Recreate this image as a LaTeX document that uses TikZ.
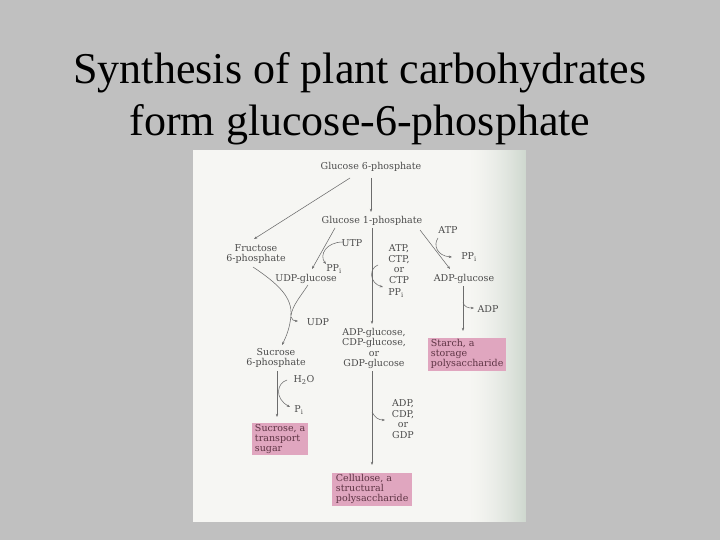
\documentclass[tikz,border=0pt]{standalone}
\usepackage{fontspec}
\setmainfont{Liberation Serif}
\newfontfamily\dia{DejaVu Serif}
\usetikzlibrary{arrows.meta}
\definecolor{bg}{HTML}{C0C0C0}
\definecolor{paper}{HTML}{F6F6F3}
\definecolor{paperedge}{HTML}{CFD8CF}
\definecolor{ink}{HTML}{4C4C4C}
\definecolor{lineink}{HTML}{6C6C6C}
\definecolor{pink}{HTML}{E0A6BF}
\definecolor{boxink}{HTML}{5E3444}
\tikzset{
  lbl/.style={font=\dia\fontsize{9.5}{10.5}\selectfont, text=ink, inner sep=0pt, align=center},
  pinkbox/.style={fill=pink, font=\dia\fontsize{9.5}{10}\selectfont, text=boxink, align=left, inner xsep=2pt, inner ysep=1.5pt, anchor=north west},
  conn/.style={draw=lineink, line width=0.55pt, -{Stealth[length=3.2pt,width=2.4pt]}},
  plainline/.style={draw=lineink, line width=0.55pt},
  titlef/.style={font=\fontsize{44}{52}\selectfont, text=black, inner sep=0pt, anchor=base}
}
\begin{document}
\begin{tikzpicture}[x=1pt,y=-1pt]
\useasboundingbox (0,0) rectangle (720,540);
\fill[bg] (0,0) rectangle (720,540);
% title
\node[titlef] (t1) at (360,83.5) {Synthesis of plant carbohydrates};
\node[titlef] (t2) at (360,135.5) {form glucose-6-phosphate};
% scanned panel
\fill[paper] (193,150) rectangle (526,522);
\foreach \i in {0,...,59}{
  \pgfmathsetmacro\p{100*(\i/59)^1.6}
  \fill[paperedge!\p!paper] ({466+\i},150) rectangle ({467.4+\i},522);
}
\fill[bg] (526,150) rectangle (530,522);
% nodes
\node[lbl] (g6p) at (371,167) {Glucose 6-phosphate};
\node[lbl] (g1p) at (372,221) {Glucose 1-phosphate};
\node[lbl] (f6p) at (256,254) {Fructose\\6-phosphate};
\node[lbl] (udpg) at (306,279) {UDP-glucose};
\node[lbl] (utp) at (352,243) {UTP};
\node[lbl] (ppi1) at (334,269) {PP\textsubscript{i}};
\node[lbl] (atpmid) at (399,264) {ATP,\\CTP,\\or\\CTP};
\node[lbl] (ppi2) at (396,293) {PP\textsubscript{i}};
\node[lbl] (adpg) at (464,279) {ADP-glucose};
\node[lbl] (atp) at (448,230) {ATP};
\node[lbl] (ppi3) at (469,257) {PP\textsubscript{i}};
\node[lbl] (adp) at (488,309) {ADP};
\node[lbl] (xdpg) at (374,348.5) {ADP-glucose,\\CDP-glucose,\\or\\GDP-glucose};
\node[lbl] (udp) at (318,322) {UDP};
\node[lbl] (s6p) at (276,358) {Sucrose\\6-phosphate};
\node[lbl] (h2o) at (304,380) {H\textsubscript{2}O};
\node[lbl] (pi) at (299,410) {P\textsubscript{i}};
\node[lbl] (adp3) at (403,419) {ADP,\\CDP,\\or\\GDP};
\node[pinkbox, minimum width=78pt, minimum height=32pt] (starch) at (428,338) {Starch, a\\storage\\polysaccharide};
\node[pinkbox, minimum width=56pt, minimum height=32pt] (sucrose) at (252,423) {Sucrose, a\\transport\\sugar};
\node[pinkbox, minimum width=80pt, minimum height=30pt] (cell) at (332,473) {Cellulose, a\\structural\\polysaccharide};
% helper coordinates
\coordinate (m1) at (291,315);
% connectors
\draw[conn] (371,178) -- (371,212);
\draw[conn] (350,178) -- (254,239);
\draw[conn] (335,228) -- (312,269);
\draw[conn] (343,242) .. controls (326,242) and (319,255) .. (326,264);
\draw[conn] (372,228) -- (372,324);
\draw[conn] (378,265) .. controls (369,268) and (369,283) .. (383,287);
\draw[conn] (420,230) -- (450,269);
\draw[conn] (438,238) .. controls (433,245) and (437,256) .. (452,257);
\draw[conn] (463,286) -- (463,331);
\draw[conn] (463,302) .. controls (464,307) and (468,308) .. (474,308);
\draw[plainline] (253,267) .. controls (280,285) and (292,298) .. (m1);
\draw[conn] (m1) .. controls (290,328) and (286,337) .. (282,345);
\draw[plainline] (308,285) .. controls (300,297) and (293,305) .. (m1);
\draw[conn] (291,317) .. controls (292,320) and (294,321) .. (298,321);
\draw[conn] (277,371) -- (277,417);
\draw[conn] (287,380) .. controls (277,383) and (274,398) .. (290,407);
\draw[conn] (372,371) -- (372,465);
\draw[conn] (372,412) .. controls (375,418) and (379,420) .. (385,420);
\end{tikzpicture}
\end{document}
